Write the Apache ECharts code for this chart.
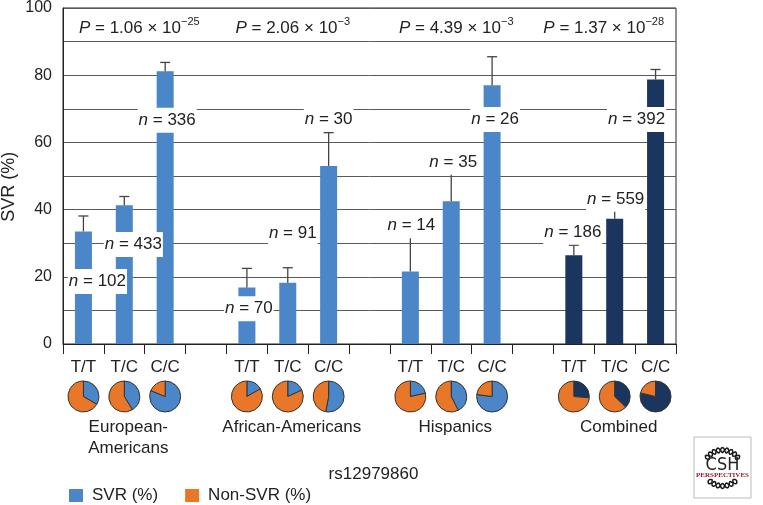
<!DOCTYPE html>
<html><head><meta charset="utf-8">
<script src="https://cdn.jsdelivr.net/npm/echarts@6/dist/echarts.min.js"></script>
<style>html,body{margin:0;padding:0;background:#fff}#c{width:763px;height:505px}</style>
</head><body><div id="c"></div>
<script>
// ---------- data ----------
const genotypes = ['T/T', 'T/C', 'C/C'];
const groupNames = ['European-\nAmericans', 'African-Americans', 'Hispanics', 'Combined'];
const svrEuropean = [33.5, 41.3, 81.2];
const svrAfrican  = [16.8, 18.2, 53.0];
const svrHispanic = [21.6, 42.5, 77.0];
const svrCombined = [26.4, 37.3, 78.7];
const errTopEuropean = [38.1, 43.9, 83.8];
const errTopAfrican  = [22.5, 22.7, 62.9];
const errTopHispanic = [32.7, 51.0, 85.5];
const errTopCombined = [29.4, 40.4, 81.7];
const nEuropean = [102, 433, 336];
const nAfrican  = [70, 91, 30];
const nHispanic = [14, 35, 26];
const nCombined = [186, 559, 392];
const pMantissa = ['1.06', '2.06', '4.39', '1.37'];
const pExponent = ['−25', '−3', '−3', '−28'];
const yTickLabels = [0, 20, 40, 60, 80, 100];
const snpName = 'rs12979860';
const legendNames = ['SVR (%)', 'Non-SVR (%)'];

// ---------- layout / style ----------
const BLUE = '#4a86c8', NAVY = '#1a365f', ORANGE = '#e8772a';
const FONT = "'Liberation Sans', Arial, Helvetica, sans-serif";
const TXT = '#222';
const nLabelAt = [[18.6, 29.6, 66.6], [10.5, 33.0, 66.8], [35.2, 54.1, 66.8], [33.3, 43.1, 66.8]];
const nLabelDx = [[14, 9, 2], [2, 5, 0], [1, 2, 3], [-1, 1, -19]];
const pLabelAt = 94.1;
const pLabelDx = [15, 5, 5, -11];

const svrAll = [svrEuropean, svrAfrican, svrHispanic, svrCombined];
const errAll = [errTopEuropean, errTopAfrican, errTopHispanic, errTopCombined];
const nAll = [nEuropean, nAfrican, nHispanic, nCombined];

// build category slots: 3 genotypes per group + an empty gap slot between groups
const cats = [], barData = [], errData = [], nData = [], pData = [], slotInfo = [];
groupNames.forEach((g, gi) => {
  genotypes.forEach((gt, i) => {
    const slot = cats.length;
    cats.push(gt);
    barData.push(svrAll[gi][i]);
    errData.push([slot, svrAll[gi][i], errAll[gi][i]]);
    nData.push({ value: [slot, nLabelAt[gi][i]], n: nAll[gi][i], dx: nLabelDx[gi][i] });
    slotInfo.push({ slot, gi, svr: svrAll[gi][i] });
  });
  pData.push({ value: [gi * 4 + 1, pLabelAt], gi });
  if (gi < groupNames.length - 1) { cats.push(''); barData.push('-'); }
});

const chart = echarts.init(document.getElementById('c'), null, { renderer: 'canvas' });

const option = {
  animation: false,
  textStyle: { fontFamily: FONT },
  grid: { left: 63, right: 87, top: 5, bottom: 161, show: true, borderColor: '#222', borderWidth: 1, backgroundColor: 'transparent' },
  legend: {
    left: 64, top: 482, itemWidth: 14, itemHeight: 13, itemGap: 27,
    icon: 'rect',
    textStyle: { fontFamily: FONT, fontSize: 17, color: TXT, padding: [0, 0, 0, 4] },
    data: [
      { name: legendNames[0], itemStyle: { color: BLUE, borderWidth: 0 } },
      { name: legendNames[1], itemStyle: { color: ORANGE, borderWidth: 0 } }
    ]
  },
  xAxis: {
    type: 'category', data: cats, boundaryGap: true,
    axisLine: { lineStyle: { color: '#222', width: 1 } },
    axisTick: { show: true, interval: 0, length: 10, lineStyle: { color: '#222' } },
    axisLabel: { interval: 0, fontSize: 17, color: TXT, margin: 15, fontFamily: FONT },
    splitLine: { show: false }
  },
  yAxis: {
    type: 'value', min: 0, max: 100, interval: 10,
    axisLine: { show: true, lineStyle: { color: '#222', width: 1 } },
    axisTick: { show: false },
    axisLabel: { fontSize: 16, color: TXT, margin: 11, fontFamily: FONT,
      formatter: v => yTickLabels.includes(v) ? String(v) : '' },
    splitLine: { show: true, lineStyle: { color: '#5a5a5a', width: 1 } }
  },
  series: [
    {
      type: 'bar', data: barData, barWidth: 17, z: 2,
      itemStyle: { color: p => (Math.floor(p.dataIndex / 4) === 3 ? NAVY : BLUE) }
    },
    {
      type: 'custom', data: errData, z: 3,
      encode: { x: 0, y: [1, 2] },
      renderItem: (params, api) => {
        const b = api.coord([api.value(0), api.value(1)]);
        const t = api.coord([api.value(0), api.value(2)]);
        const st = { stroke: '#444', lineWidth: 1.3 };
        return { type: 'group', children: [
          { type: 'line', shape: { x1: b[0], y1: b[1], x2: t[0], y2: t[1] }, style: st },
          { type: 'line', shape: { x1: t[0] - 5, y1: t[1], x2: t[0] + 5, y2: t[1] }, style: st }
        ] };
      }
    },
    {
      type: 'scatter', z: 5, symbolSize: 1, itemStyle: { color: 'rgba(0,0,0,0)', opacity: 1 },
      data: nData.map(d => ({ value: d.value, label: { offset: [d.dx, 0], formatter: '{i|n} = ' + d.n } })),
      label: {
        show: true, position: 'inside', color: TXT, fontSize: 17, fontFamily: FONT, opacity: 1,
        backgroundColor: '#fff', padding: [4, 1, 4, 1],
        rich: { i: { fontStyle: 'italic', fontSize: 17, fontFamily: FONT, color: TXT } }
      }
    },
    {
      type: 'scatter', z: 5, symbolSize: 1, itemStyle: { color: 'rgba(0,0,0,0)', opacity: 1 },
      data: pData.map(d => ({ value: d.value, label: { offset: [pLabelDx[d.gi], 0],
        formatter: '{i|P} = ' + pMantissa[d.gi] + ' × 10{sup|' + pExponent[d.gi] + '}' } })),
      label: {
        show: true, position: 'inside', color: TXT, fontSize: 17, fontFamily: FONT, lineHeight: 22, opacity: 1,
        rich: {
          i: { fontStyle: 'italic', fontSize: 17, fontFamily: FONT, color: TXT, lineHeight: 22 },
          sup: { fontSize: 11, fontFamily: FONT, color: TXT, lineHeight: 12, verticalAlign: 'top' }
        }
      }
    }
  ]
};
chart.setOption(option);

// ---------- pies and below-axis text, placed through the axis scale ----------
const xPix = s => chart.convertToPixel({ xAxisIndex: 0 }, s);
const PIE_Y = 396.5;
const pies = slotInfo.map(si => ({
  type: 'pie', radius: 15.5, center: [xPix(si.slot), PIE_Y], startAngle: 90, clockwise: true,
  silent: true, label: { show: false }, labelLine: { show: false }, z: 4,
  itemStyle: { borderColor: '#333', borderWidth: 1 },
  data: [
    { name: legendNames[0], value: si.svr, itemStyle: { color: si.gi === 3 ? NAVY : BLUE } },
    { name: legendNames[1], value: +(100 - si.svr).toFixed(1), itemStyle: { color: ORANGE } }
  ]
}));

const groupTexts = groupNames.map((g, gi) => ({
  type: 'text', x: xPix(gi * 4 + 1) + 4, y: 417,
  style: { text: g, fontSize: 17, fontFamily: FONT, fill: TXT, align: 'center', verticalAlign: 'top', lineHeight: 21 }
}));
const plotMidX = (xPix(0) + xPix(cats.length - 1)) / 2;
const yMid = chart.convertToPixel({ yAxisIndex: 0 }, 46.8);

// decorative logo helix strands (drawing only, not chart data)
function helixStrands(cx, cy, r, a0, a1, amp, turns) {
  const s1 = [], s2 = [];
  for (let k = 0; k <= 40; k++) {
    const t = k / 40, a = a0 + (a1 - a0) * t, w = amp * Math.sin(t * Math.PI * 2 * turns);
    s1.push([cx + (r + w) * Math.cos(a), cy + (r + w) * Math.sin(a)]);
    s2.push([cx + (r - w) * Math.cos(a), cy + (r - w) * Math.sin(a)]);
  }
  return [s1, s2].map(p => ({ type: 'polyline', shape: { points: p }, style: { stroke: '#1a1a1a', lineWidth: 1.5, fill: null } }));
}

chart.setOption({
  series: option.series.concat(pies),
  graphic: groupTexts.concat([
    { type: 'text', x: plotMidX + 4, y: 474,
      style: { text: snpName, fontSize: 17, fontFamily: FONT, fill: TXT, align: 'center', verticalAlign: 'middle' } },
    { type: 'text', x: 9, y: yMid, rotation: Math.PI / 2,
      style: { text: 'SVR (%)', fontSize: 18, fontFamily: FONT, fill: TXT, align: 'center', verticalAlign: 'middle' } },
    { type: 'group', x: 694, y: 437, children: [
      { type: 'rect', shape: { x: 0, y: 0, width: 57, height: 61 }, style: { fill: '#fff', stroke: '#bbb', lineWidth: 1 } },
      ...helixStrands(28.5, 32, 19, Math.PI + 0.55, 2 * Math.PI - 0.55, 2.5, 4.5),
      { type: 'text', x: 28.5, y: 28, style: { text: 'CSH', fontSize: 18, fontFamily: "'Liberation Sans Narrow', 'DejaVu Sans Condensed', sans-serif", fill: '#222', align: 'center', verticalAlign: 'middle' } },
      { type: 'text', x: 28.5, y: 38.5, style: { text: 'PERSPECTIVES', fontSize: 7, fontWeight: 'bold', fontFamily: "'Liberation Serif', serif", fill: '#9b1b30', align: 'center', verticalAlign: 'middle' } },
      ...helixStrands(28.5, 30, 19, 0.75, Math.PI - 0.75, 2.5, 3.5)
    ] }
  ])
});
</script>
</body></html>
